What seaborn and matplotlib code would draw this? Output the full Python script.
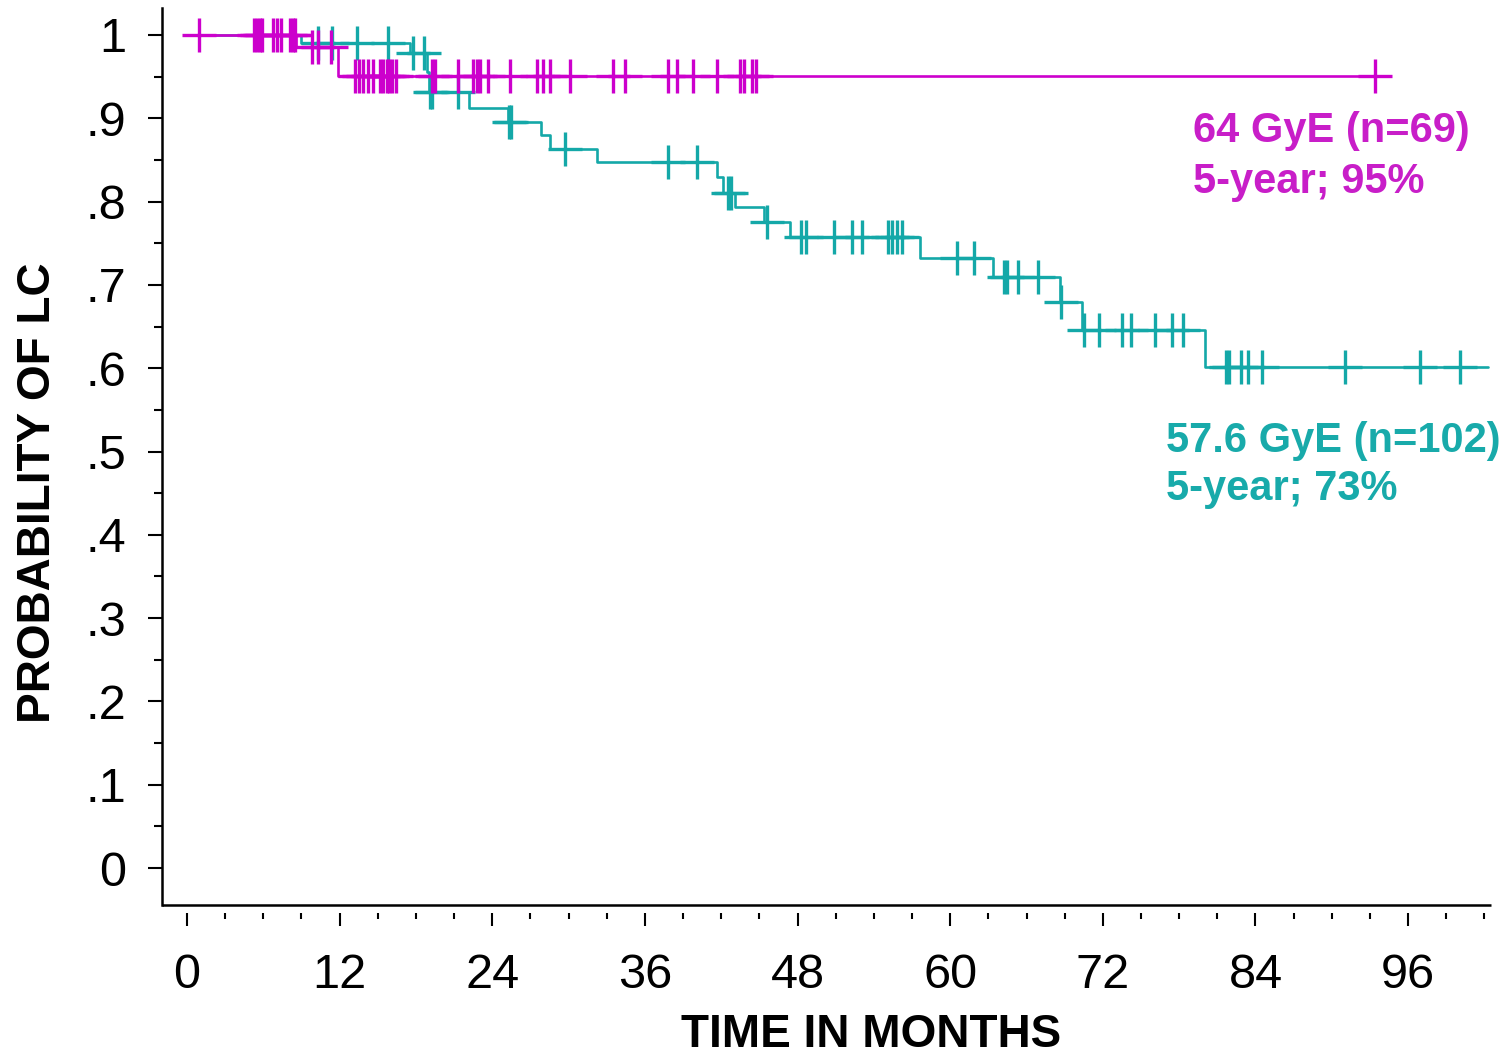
import numpy as np
import matplotlib
matplotlib.use("Agg")
import matplotlib.pyplot as plt
import seaborn as sns

# ---------------- data ----------------
# 64 GyE group (magenta)
mag_event_t = [8.6, 11.9]
mag_event_s = [0.985, 0.951]
mag_end = 94.1
mag_censor_t = [0.95, 5.3, 5.5, 5.7, 5.9, 6.8, 7.1, 7.4, 8.1, 8.3, 8.5,
                9.8, 10.3, 11.3,
                13.2, 13.5, 13.8, 14.2, 14.6, 15.2, 15.4, 15.7, 15.9, 16.1, 16.4,
                19.3, 19.5, 21.3, 22.5, 22.8, 23.0, 23.7, 25.4, 27.5, 28.0, 28.5,
                30.1, 33.5, 34.4, 37.8, 38.5, 39.8, 41.7, 43.5, 43.8, 44.4, 44.7,
                93.4]

# 57.6 GyE group (teal)
teal_event_t = [9.0, 17.5, 18.9, 19.0, 22.2, 25.2, 27.8, 28.5, 32.2, 41.7, 42.1,
                43.1, 45.4, 47.4, 57.6, 63.4, 68.6, 70.4, 80.0]
teal_event_s = [0.990, 0.978, 0.955, 0.932, 0.912, 0.896, 0.880, 0.863, 0.848, 0.830,
                0.810, 0.793, 0.776, 0.758, 0.732, 0.709, 0.679, 0.646, 0.601]
teal_end = 102.3
teal_censor_t = [10.3, 11.4, 13.4, 15.8, 17.8, 18.6, 19.1, 19.3, 21.3, 25.3, 25.5,
                 29.7, 37.8, 40.1, 42.5, 42.8, 45.6, 48.3, 48.7, 50.9, 52.3, 53.1,
                 55.1, 55.4, 55.8, 56.2, 60.5, 61.9, 64.2, 64.5, 65.3, 66.9, 68.7,
                 70.5, 71.7, 73.5, 74.2, 76.1, 77.4, 78.3, 81.7, 81.9, 82.9, 83.4,
                 84.5, 91.0, 96.9, 100.1]

group_labels = ["64 GyE (n=69)", "57.6 GyE (n=102)"]
group_notes = ["5-year; 95%", "5-year; 73%"]

x_ticks = [0, 12, 24, 36, 48, 60, 72, 84, 96]
y_ticks = [0, 0.1, 0.2, 0.3, 0.4, 0.5, 0.6, 0.7, 0.8, 0.9, 1.0]
y_tick_labels = ["0", ".1", ".2", ".3", ".4", ".5", ".6", ".7", ".8", ".9", "1"]

x_label = "TIME IN MONTHS"
y_label = "PROBABILITY OF LC"

MAG = "#CC00CC"
TEAL = "#14A8A8"
MAG_TXT = "#C81EC8"
TEAL_TXT = "#18AAAA"

# ---------------- helpers ----------------
def step_arrays(ev_t, ev_s, end):
    t = np.array([0.0] + list(ev_t) + [end])
    s = np.array([1.0] + list(ev_s) + [ev_s[-1]])
    return t, s

def level_at(ev_t, ev_s, times):
    ev_t = np.asarray(ev_t)
    lv = np.array([1.0] + list(ev_s))
    idx = np.searchsorted(ev_t, np.asarray(times), side="right")
    return lv[idx]

# ---------------- figure ----------------
sns.set_style("ticks")
plt.rcParams["font.family"] = ["Liberation Sans", "DejaVu Sans"]
for k in ["text.color", "axes.labelcolor", "xtick.color", "ytick.color", "axes.edgecolor"]:
    plt.rcParams[k] = "black"

W, H = 1503, 1058
fig = plt.figure(figsize=(W / 100, H / 100), dpi=100)
ax_left, ax_right, ax_top, ax_bot = 162, 1491, 8, 913
ax = fig.add_axes([ax_left / W, (H - ax_bot) / H, (ax_right - ax_left) / W, (ax_bot - ax_top) / H])

# pixel mapping: x=0 -> 187px, 12.72 px / month ; y=1 -> 35px, y=0 -> 868px
ppm = 12.72
x0 = 187
xlim = ((ax_left - x0) / ppm, (ax_right - x0) / ppm)
ppy = 833.0
ylim = (-(ax_bot - 868) / ppy, 1 + (35 - ax_top) / ppy)
spine_y = -(905 - 868) / ppy

for ev_t, ev_s, end, cens, col in [
    (teal_event_t, teal_event_s, teal_end, teal_censor_t, TEAL),
    (mag_event_t, mag_event_s, mag_end, mag_censor_t, MAG),
]:
    t, s = step_arrays(ev_t, ev_s, end)
    sns.lineplot(x=t, y=s, ax=ax, drawstyle="steps-post", color=col, lw=1.9,
                 sort=False, estimator=None)
    cy = level_at(ev_t, ev_s, cens)
    sns.scatterplot(x=cens, y=cy, ax=ax, marker="+", s=620, color=col,
                    linewidth=2.4, zorder=3)

ax.set_xlim(*xlim)
ax.set_ylim(*ylim)

# spines
ax.spines["top"].set_visible(False)
ax.spines["right"].set_visible(False)
ax.spines["bottom"].set_visible(False)
ax.spines["left"].set_linewidth(1.8)
ax.spines["left"].set_bounds(spine_y, ylim[1])
ax.plot([xlim[0], xlim[1]], [spine_y, spine_y], color="black", lw=1.8,
        clip_on=False, solid_capstyle="butt")

# ticks
ax.set_xticks(x_ticks)
ax.set_xticklabels([str(v) for v in x_ticks])
ax.set_xticks(np.arange(0, 103, 3), minor=True)
ax.set_yticks(y_ticks)
ax.set_yticklabels(y_tick_labels)
ax.set_yticks(np.arange(0.05, 1.0, 0.1), minor=True)

ax.tick_params(axis="x", which="major", direction="out", length=9.5, width=1.5,
               pad=19, labelsize=35)
ax.tick_params(axis="x", which="minor", direction="out", length=4.5, width=1.5)
ax.tick_params(axis="y", which="major", direction="out", length=10, width=1.5,
               pad=16, labelsize=35)
ax.tick_params(axis="y", which="minor", direction="out", length=6, width=1.5)

ax.set_xlabel(x_label, fontsize=33, fontweight="bold")
ax.set_ylabel(y_label, fontsize=33, fontweight="bold")
ax.xaxis.set_label_coords((871 - ax_left) / (ax_right - ax_left), -(1047 - ax_bot) / (ax_bot - ax_top))
ax.xaxis.label.set_va("baseline")
ax.yaxis.set_label_coords(-(162 - 38) / (ax_right - ax_left), (ax_bot - 493) / (ax_bot - ax_top))
ax.yaxis.label.set_va("center")

# annotations
fig.text(1193 / W, 1 - 142 / H, group_labels[0], color=MAG_TXT, fontsize=30,
         fontweight="bold", va="baseline", ha="left")
fig.text(1193 / W, 1 - 193 / H, group_notes[0], color=MAG_TXT, fontsize=30,
         fontweight="bold", va="baseline", ha="left")
fig.text(1166 / W, 1 - 452 / H, group_labels[1], color=TEAL_TXT, fontsize=30,
         fontweight="bold", va="baseline", ha="left")
fig.text(1166 / W, 1 - 500 / H, group_notes[1], color=TEAL_TXT, fontsize=30,
         fontweight="bold", va="baseline", ha="left")

fig.savefig("out.png", dpi=100)
